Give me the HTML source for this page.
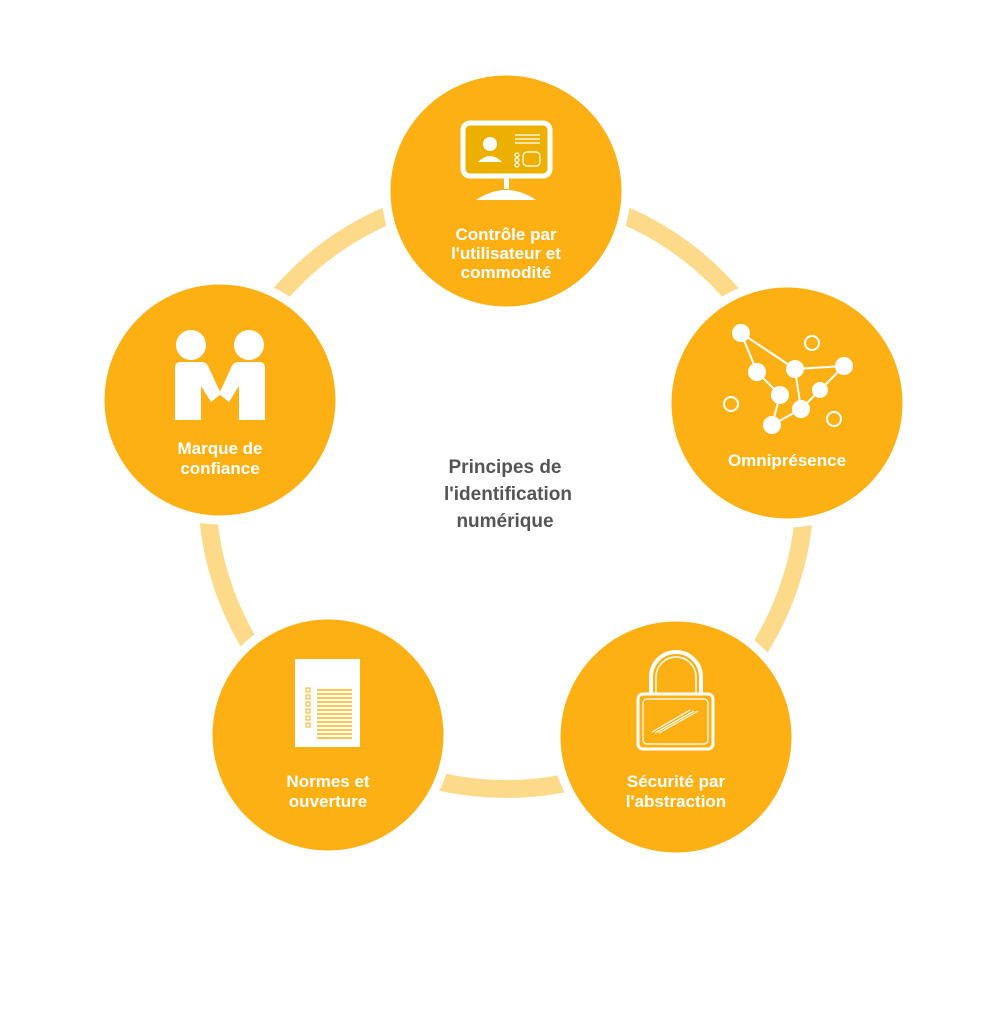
<!DOCTYPE html>
<html><head><meta charset="utf-8"><style>
html,body{margin:0;padding:0;background:#fff}
svg{display:block}
text{font-family:"Liberation Sans","DejaVu Sans",sans-serif;font-weight:bold}
</style></head><body>
<svg width="1008" height="1024" viewBox="0 0 1008 1024" xmlns="http://www.w3.org/2000/svg">
<circle cx="506" cy="490" r="299" fill="none" stroke="#fdd98a" stroke-width="18"/>
<g fill="#fdb014" stroke="#fff" stroke-width="9">
<circle cx="506" cy="191" r="120"/>
<circle cx="787" cy="403" r="120"/>
<circle cx="676" cy="737" r="120"/>
<circle cx="328" cy="735" r="120"/>
<circle cx="220" cy="400" r="120"/>
</g>
<!-- monitor -->
<rect x="463" y="123" width="87" height="53" rx="7" fill="#edb000" stroke="#fff" stroke-width="5"/>
<circle cx="490" cy="144" r="7" fill="#fff"/>
<path d="M478 162 q12 -12 24 0 z" fill="#fff"/>
<g stroke="#fff" stroke-width="1.2"><line x1="515" y1="135" x2="540" y2="135"/><line x1="515" y1="139" x2="540" y2="139"/><line x1="515" y1="143" x2="540" y2="143"/></g>
<g fill="none" stroke="#fff" stroke-width="1.2"><circle cx="517" cy="155" r="2"/><circle cx="517" cy="160" r="2"/><circle cx="517" cy="165" r="2"/><rect x="523" y="152" width="17" height="14" rx="4"/></g>
<rect x="504" y="177" width="5" height="12" fill="#fff"/>
<path d="M476 200 q30 -20 60 0 z" fill="#fff"/>
<text fill="#fff" font-size="17" text-anchor="middle"><tspan x="506" y="240">Contrôle par</tspan><tspan x="506" y="259">l'utilisateur et</tspan><tspan x="506" y="278">commodité</tspan></text>
<!-- network -->
<g stroke="#fff" stroke-width="2" fill="none">
<polyline points="741,333 757,372 780,395 772,425 801,409 795,369 741,333"/>
<polyline points="795,369 844,366 820,390 801,409"/>
<circle cx="812" cy="343" r="7"/><circle cx="731" cy="404" r="7"/><circle cx="834" cy="419" r="7"/>
</g>
<g fill="#fff"><circle cx="741" cy="333" r="9"/><circle cx="757" cy="372" r="9"/><circle cx="795" cy="369" r="9"/><circle cx="844" cy="366" r="9"/><circle cx="820" cy="390" r="8"/><circle cx="780" cy="395" r="9"/><circle cx="801" cy="409" r="9"/><circle cx="772" cy="425" r="9"/></g>
<text fill="#fff" font-size="17" text-anchor="middle" x="787" y="466">Omniprésence</text>
<!-- lock -->
<path d="M651 694 v-17 a25 25 0 0 1 50 0 v17" fill="none" stroke="#fff" stroke-width="4"/>
<path d="M656 694 v-17 a20 20 0 0 1 40 0 v17" fill="none" stroke="#fff" stroke-width="1.5"/>
<rect x="638" y="694" width="75" height="55" rx="5" fill="none" stroke="#fff" stroke-width="3"/>
<rect x="643" y="699" width="65" height="45" rx="4" fill="none" stroke="#fff" stroke-width="1.2"/>
<g stroke="#fff" stroke-width="1.2"><line x1="652" y1="732" x2="690" y2="710"/><line x1="655" y1="733" x2="694" y2="711"/><line x1="659" y1="733" x2="698" y2="711"/></g>
<text fill="#fff" font-size="17" text-anchor="middle"><tspan x="676" y="787">Sécurité par</tspan><tspan x="676" y="807">l'abstraction</tspan></text>
<!-- document -->
<rect x="295" y="659" width="65" height="88" fill="#fff"/>
<g stroke="#fdb014" stroke-width="1.5">
<line x1="317" y1="690" x2="352" y2="690"/><line x1="317" y1="694" x2="352" y2="694"/><line x1="317" y1="698" x2="352" y2="698"/><line x1="317" y1="702" x2="352" y2="702"/><line x1="317" y1="706" x2="352" y2="706"/><line x1="317" y1="710" x2="352" y2="710"/><line x1="317" y1="714" x2="352" y2="714"/><line x1="317" y1="718" x2="352" y2="718"/><line x1="317" y1="722" x2="352" y2="722"/><line x1="317" y1="726" x2="352" y2="726"/><line x1="317" y1="730" x2="352" y2="730"/><line x1="317" y1="734" x2="352" y2="734"/><line x1="317" y1="738" x2="352" y2="738"/>
</g>
<g fill="none" stroke="#fdb014" stroke-width="1"><rect x="306" y="688" width="4" height="4"/><rect x="306" y="695" width="4" height="4"/><rect x="306" y="702" width="4" height="4"/><rect x="306" y="709" width="4" height="4"/><rect x="306" y="716" width="4" height="4"/><rect x="306" y="723" width="4" height="4"/></g>
<text fill="#fff" font-size="17" text-anchor="middle"><tspan x="328" y="787">Normes et</tspan><tspan x="328" y="807">ouverture</tspan></text>
<!-- handshake -->
<g fill="#fff">
<circle cx="191" cy="345" r="15"/><circle cx="249" cy="345" r="15"/>
<path d="M175 368 q0 -6 6 -6 h20 q6 0 8 6 l12 26 l-10 8 l-10 -16 v34 h-26 z"/>
<path d="M265 368 q0 -6 -6 -6 h-20 q-6 0 -8 6 l-12 26 l10 8 l10 -16 v34 h26 z"/>
</g>
<text fill="#fff" font-size="17" text-anchor="middle"><tspan x="220" y="454">Marque de</tspan><tspan x="220" y="474">confiance</tspan></text>
<!-- center -->
<text fill="#555" font-size="19" text-anchor="middle"><tspan x="505" y="473">Principes de</tspan><tspan x="508" y="500">l'identification</tspan><tspan x="505" y="527">numérique</tspan></text>
</svg>
</body></html>
